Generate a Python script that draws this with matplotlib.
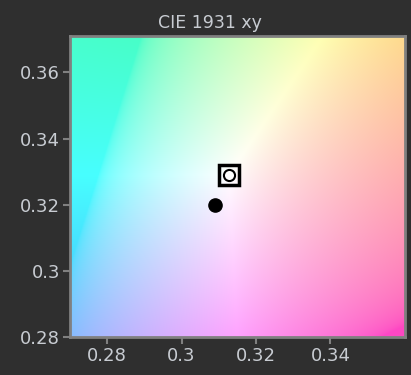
import numpy as np
import matplotlib.pyplot as plt

# chart values
x_range = [0.27, 0.36]
y_range = [0.28, 0.371]
x_ticks = [0.28, 0.30, 0.32, 0.34]
x_tick_labels = ["0.28", "0.3", "0.32", "0.34"]
y_ticks = [0.28, 0.30, 0.32, 0.34, 0.36]
y_tick_labels = ["0.28", "0.3", "0.32", "0.34", "0.36"]
measured_xy = [0.309, 0.320]
target_xy = [0.3127, 0.3290]

bg = "#2f2f2f"
txt = "#c8ccd2"
edge = "#808080"


def xy_to_rgb(x, y, boost=2.5):
    # push chromaticity away from the white point to make the tint visible
    x = target_xy[0] + boost * (x - target_xy[0])
    y = target_xy[1] + boost * (y - target_xy[1])
    X = x / y
    Z = (1 - x - y) / y
    M = np.array([[3.2406, -1.5372, -0.4986],
                  [-0.9689, 1.8758, 0.0415],
                  [0.0557, -0.2040, 1.0570]])
    xyz = np.stack([X, np.ones_like(X), Z], axis=-1)
    rgb = xyz @ M.T
    rgb = np.clip(rgb, 0, None)
    rgb = rgb / rgb.max(axis=-1, keepdims=True)
    rgb = np.where(rgb <= 0.0031308, 12.92 * rgb,
                   1.055 * np.power(rgb, 1 / 2.4) - 0.055)
    rgb = 0.28 + 0.72 * rgb  # soften towards white
    return np.clip(rgb, 0, 1)


gx, gy = np.meshgrid(np.linspace(x_range[0], x_range[1], 300),
                     np.linspace(y_range[0], y_range[1], 300))
img = xy_to_rgb(gx, gy)

fig = plt.figure(figsize=(4.11, 3.75), dpi=100, facecolor=bg)
ax = fig.add_axes([0.170, 0.101, 0.815, 0.803])
ax.imshow(img, origin="lower", extent=[x_range[0], x_range[1], y_range[0], y_range[1]],
          aspect="auto", interpolation="bilinear")

ax.plot(measured_xy[0], measured_xy[1], "o", color="black", markersize=9.5)
ax.plot(target_xy[0], target_xy[1], "s", markerfacecolor="none",
        markeredgecolor="black", markeredgewidth=2.5, markersize=14)
ax.plot(target_xy[0], target_xy[1], "o", markerfacecolor="white",
        markeredgecolor="black", markeredgewidth=1.5, markersize=8)

ax.set_xlim(x_range)
ax.set_ylim(y_range)
ax.set_xticks(x_ticks)
ax.set_xticklabels(x_tick_labels)
ax.set_yticks(y_ticks)
ax.set_yticklabels(y_tick_labels)
ax.tick_params(colors=edge, labelcolor=txt, labelsize=13, length=5, width=1.5, pad=2)
for s in ax.spines.values():
    s.set_color(edge)
    s.set_linewidth(2)
fig.text(0.51, 0.94, "CIE 1931 xy", color=txt, fontsize=12.5, ha="center", va="center")

fig.savefig("out.png", dpi=100, facecolor=bg)
